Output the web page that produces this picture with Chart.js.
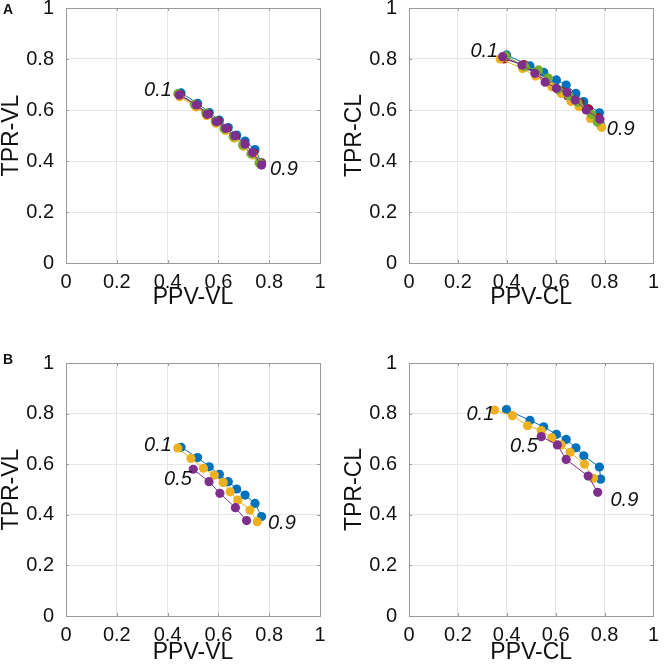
<!DOCTYPE html>
<html>
<head>
<meta charset="utf-8">
<script src="https://cdn.jsdelivr.net/npm/chart.js@4.4.1/dist/chart.umd.min.js"></script>
<style>
  html, body { margin: 0; padding: 0; background: #fff; }
  #wrap { position: relative; width: 666px; height: 672px; overflow: hidden; }
  .panel { position: absolute; }
  .tag { position: absolute; font: bold 14px "Liberation Sans", Arial, sans-serif; color: #111; z-index: 2; }
</style>
</head>
<body>
<div id="wrap">
  <div class="panel" style="left:0;top:-19px"><canvas id="aL" width="333" height="336"></canvas></div>
  <div class="panel" style="left:343px;top:-19px"><canvas id="aR" width="323" height="336"></canvas></div>
  <div class="panel" style="left:0;top:336px"><canvas id="bL" width="333" height="336"></canvas></div>
  <div class="panel" style="left:343px;top:336px"><canvas id="bR" width="323" height="336"></canvas></div>
  <div class="tag" style="left:3px;top:1px">A</div>
  <div class="tag" style="left:3px;top:351px">B</div>
</div>

<script>
// ============================
// DATA
// ============================
const tickVals = [0, 0.2, 0.4, 0.6, 0.8, 1];
const tickText = ["0", "0.2", "0.4", "0.6", "0.8", "1"];

// colours (MATLAB default order)
const BLUE = "#0072BD";
const YELLOW = "#EDB120";
const PURPLE = "#7E2F8E";
const GREEN = "#77AC30";
const RED = "#A2142F";

// --- A, VL (thresholds 0.1 .. 0.9)
const ppvBlueVL = [0.453, 0.518, 0.564, 0.604, 0.639, 0.672, 0.705, 0.744, 0.770];
const tprBlueVL = [0.667, 0.626, 0.590, 0.560, 0.531, 0.502, 0.478, 0.445, 0.393];
const ppvRedVL = [0.450, 0.516, 0.560, 0.598, 0.634, 0.668, 0.704, 0.740, 0.768];
const tprRedVL = [0.660, 0.618, 0.585, 0.556, 0.526, 0.496, 0.466, 0.432, 0.392];
const ppvYellowVL = [0.448, 0.512, 0.553, 0.590, 0.628, 0.662, 0.700, 0.736, 0.766];
const tprYellowVL = [0.652, 0.612, 0.578, 0.548, 0.520, 0.490, 0.458, 0.424, 0.388];
const ppvGreenVL = [0.440, 0.505, 0.550, 0.588, 0.622, 0.658, 0.695, 0.728, 0.760];
const tprGreenVL = [0.664, 0.622, 0.588, 0.556, 0.526, 0.496, 0.463, 0.428, 0.392];
const ppvPurpleVL = [0.446, 0.514, 0.556, 0.593, 0.629, 0.665, 0.705, 0.735, 0.770];
const tprPurpleVL = [0.659, 0.620, 0.583, 0.554, 0.528, 0.499, 0.467, 0.433, 0.384];

// --- A, CL
const ppvBlueCL = [0.399, 0.495, 0.551, 0.603, 0.643, 0.683, 0.715, 0.779, 0.784];
const tprBlueCL = [0.816, 0.773, 0.748, 0.718, 0.698, 0.665, 0.633, 0.589, 0.541];
const ppvRedCL = [0.388, 0.470, 0.520, 0.565, 0.620, 0.650, 0.700, 0.735, 0.775];
const tprRedCL = [0.800, 0.778, 0.740, 0.715, 0.675, 0.655, 0.628, 0.605, 0.570];
const ppvYellowCL = [0.373, 0.465, 0.518, 0.584, 0.623, 0.663, 0.696, 0.742, 0.788];
const tprYellowCL = [0.800, 0.763, 0.733, 0.691, 0.665, 0.633, 0.613, 0.567, 0.532];
const ppvGreenCL = [0.395, 0.475, 0.530, 0.570, 0.610, 0.655, 0.690, 0.748, 0.770];
const tprGreenCL = [0.812, 0.770, 0.757, 0.725, 0.680, 0.655, 0.630, 0.582, 0.553];
const ppvPurpleCL = [0.383, 0.462, 0.515, 0.557, 0.603, 0.647, 0.680, 0.725, 0.781];
const tprPurpleCL = [0.809, 0.776, 0.744, 0.709, 0.685, 0.669, 0.639, 0.600, 0.564];

// --- B, VL (purple only from threshold 0.5)
const ppvYellowVLb = [0.440, 0.492, 0.541, 0.584, 0.619, 0.646, 0.676, 0.724, 0.753];
const tprYellowVLb = [0.664, 0.623, 0.584, 0.557, 0.528, 0.491, 0.458, 0.419, 0.373];
const ppvPurpleVLb = [0.501, 0.563, 0.606, 0.667, 0.711];
const tprPurpleVLb = [0.580, 0.531, 0.485, 0.428, 0.377];

// --- B, CL
const ppvYellowCLb = [0.350, 0.423, 0.485, 0.541, 0.584, 0.623, 0.659, 0.718, 0.755];
const tprYellowCLb = [0.814, 0.792, 0.752, 0.733, 0.705, 0.676, 0.647, 0.600, 0.544];
const ppvPurpleCLb = [0.541, 0.607, 0.643, 0.733, 0.772];
const tprPurpleCLb = [0.709, 0.676, 0.619, 0.553, 0.489];

// threshold annotations (data coordinates)
const notesAL = [{ t: "0.1", x: 0.362, y: 0.675 }, { t: "0.9", x: 0.858, y: 0.365 }];
const notesAR = [{ t: "0.1", x: 0.308, y: 0.831 }, { t: "0.9", x: 0.866, y: 0.522 }];
const notesBL = [{ t: "0.1", x: 0.362, y: 0.676 }, { t: "0.5", x: 0.441, y: 0.541 }, { t: "0.9", x: 0.850, y: 0.364 }];
const notesBR = [{ t: "0.1", x: 0.292, y: 0.798 }, { t: "0.5", x: 0.470, y: 0.672 }, { t: "0.9", x: 0.881, y: 0.458 }];

// ============================
// HELPERS
// ============================
const FONT = "'Liberation Sans', Arial, Helvetica, sans-serif";

function series(xs, ys, color) {
  return {
    data: xs.map((x, i) => ({ x: x, y: ys[i] })),
    showLine: true,
    borderColor: color,
    borderWidth: 1,
    backgroundColor: color,
    pointBackgroundColor: color,
    pointBorderWidth: 0,
    pointRadius: 4.6,
    pointHoverRadius: 4.6
  };
}

// box round the plot + inward tick marks
const boxPlugin = {
  id: "box",
  afterDraw(chart) {
    const { ctx, chartArea: a, scales } = chart;
    ctx.save();
    ctx.strokeStyle = "#9a9a9a";
    ctx.lineWidth = 1;
    ctx.strokeRect(Math.round(a.left) + 0.5, Math.round(a.top) + 0.5,
      Math.round(a.right - a.left), Math.round(a.bottom - a.top));
    ctx.beginPath();
    tickVals.forEach(v => {
      const px = Math.round(scales.x.getPixelForValue(v)) + 0.5;
      ctx.moveTo(px, a.bottom); ctx.lineTo(px, a.bottom - 3);
      ctx.moveTo(px, a.top); ctx.lineTo(px, a.top + 3);
      const py = Math.round(scales.y.getPixelForValue(v)) + 0.5;
      ctx.moveTo(a.left, py); ctx.lineTo(a.left + 3, py);
      ctx.moveTo(a.right, py); ctx.lineTo(a.right - 3, py);
    });
    ctx.stroke();
    ctx.restore();
  }
};

// italic threshold labels
const notesPlugin = {
  id: "notes",
  afterDatasetsDraw(chart, args, opts) {
    const { ctx, scales } = chart;
    ctx.save();
    ctx.font = "italic 20px " + FONT;
    ctx.fillStyle = "#111";
    ctx.textAlign = "center";
    ctx.textBaseline = "middle";
    (opts.items || []).forEach(n => {
      ctx.fillText(n.t, scales.x.getPixelForValue(n.x), scales.y.getPixelForValue(n.y));
    });
    ctx.restore();
  }
};

function makePanel(id, xTitle, yTitle, datasets, notes, right, xHeight, xTitlePad) {
  const ctx = document.getElementById(id).getContext("2d");
  return new Chart(ctx, {
    type: "scatter",
    data: { datasets: datasets },
    plugins: [boxPlugin, notesPlugin],
    options: {
      responsive: false,
      animation: false,
      layout: { padding: { top: 27, right: right, left: 0, bottom: 0 } },
      plugins: {
        legend: { display: false },
        tooltip: { enabled: false },
        notes: { items: notes }
      },
      scales: {
        x: {
          type: "linear",
          min: 0,
          max: 1,
          afterBuildTicks: s => { s.ticks = tickVals.map(v => ({ value: v })); },
          afterFit: s => { s.height = xHeight; },
          ticks: {
            autoSkip: false,
            maxRotation: 0,
            padding: 7,
            color: "#111",
            font: { family: FONT, size: 20 },
            callback: (v, i) => tickText[i]
          },
          grid: { color: "#e6e6e6", drawTicks: false },
          border: { display: false },
          title: {
            display: true,
            text: xTitle,
            color: "#111",
            font: { family: FONT, size: 23, lineHeight: 1 },
            padding: { top: 0, bottom: xTitlePad }
          }
        },
        y: {
          type: "linear",
          min: 0,
          max: 1,
          afterBuildTicks: s => { s.ticks = tickVals.map(v => ({ value: v })); },
          afterFit: s => { s.width = 66; },
          ticks: {
            autoSkip: false,
            padding: 12,
            color: "#111",
            font: { family: FONT, size: 20 },
            callback: (v, i) => tickText[i]
          },
          grid: { color: "#e6e6e6", drawTicks: false },
          border: { display: false },
          title: {
            display: true,
            text: yTitle,
            color: "#111",
            font: { family: FONT, size: 23, lineHeight: 1 },
            padding: { top: 0, bottom: 0 }
          }
        }
      }
    }
  });
}

// ============================
// PANELS (first dataset is drawn on top)
// ============================
makePanel("aL", "PPV-VL", "TPR-VL", [
  series(ppvPurpleVL, tprPurpleVL, PURPLE),
  series(ppvGreenVL, tprGreenVL, GREEN),
  series(ppvYellowVL, tprYellowVL, YELLOW),
  series(ppvRedVL, tprRedVL, RED),
  series(ppvBlueVL, tprBlueVL, BLUE)
], notesAL, 13, 54, 7.5);

makePanel("aR", "PPV-CL", "TPR-CL", [
  series(ppvPurpleCL, tprPurpleCL, PURPLE),
  series(ppvGreenCL, tprGreenCL, GREEN),
  series(ppvYellowCL, tprYellowCL, YELLOW),
  series(ppvRedCL, tprRedCL, RED),
  series(ppvBlueCL, tprBlueCL, BLUE)
], notesAR, 4, 54, 7.5);

makePanel("bL", "PPV-VL", "TPR-VL", [
  series(ppvPurpleVLb, tprPurpleVLb, PURPLE),
  series(ppvYellowVLb, tprYellowVLb, YELLOW),
  series(ppvBlueVL, tprBlueVL, BLUE)
], notesBL, 13, 56, 8);

makePanel("bR", "PPV-CL", "TPR-CL", [
  series(ppvPurpleCLb, tprPurpleCLb, PURPLE),
  series(ppvYellowCLb, tprYellowCLb, YELLOW),
  series(ppvBlueCL, tprBlueCL, BLUE)
], notesBR, 4, 56, 8);
</script>
</body>
</html>
